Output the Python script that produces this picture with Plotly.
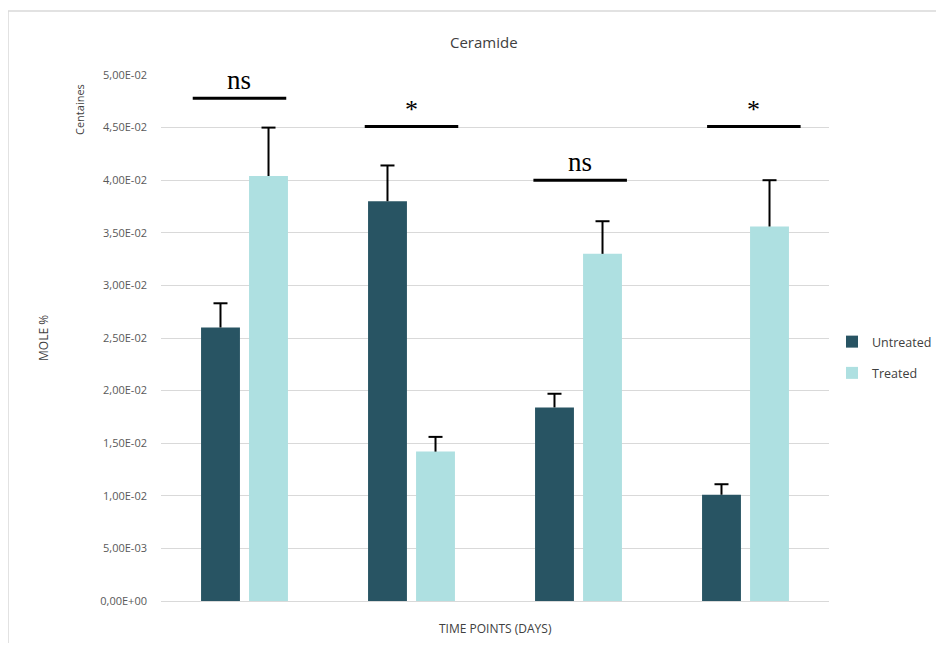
import plotly.graph_objects as go

categories = ["T1", "T2", "T3", "T4"]
untreated = [0.0260, 0.0380, 0.0184, 0.0101]
untreated_err = [0.0023, 0.0034, 0.0013, 0.0010]
treated = [0.0404, 0.0142, 0.0330, 0.0356]
treated_err = [0.0046, 0.0014, 0.0031, 0.0044]
tick_vals = [0, 0.005, 0.01, 0.015, 0.02, 0.025, 0.03, 0.035, 0.04, 0.045, 0.05]
tick_text = ["0,00E+00", "5,00E-03", "1,00E-02", "1,50E-02", "2,00E-02", "2,50E-02",
             "3,00E-02", "3,50E-02", "4,00E-02", "4,50E-02", "5,00E-02"]
sig_labels = ["ns", "*", "ns", "*"]
sig_levels = [0.0478, 0.0451, 0.0400, 0.0451]
sig_x0 = [-0.31, -0.28, -0.27, -0.23]
sig_x1 = [0.25, 0.28, 0.29, 0.33]

DARK = "#285463"
LIGHT = "#aee0e1"
TXT = "#404040"

# page body has an 8px margin; figure is sized to fit inside it
OFF = 8
FIG_W, FIG_H = 928, 635
PL, PR, PT, PB = 161, 829, 75, 601   # plot area in screen pixels


def px_x(px):
    return (px - PL) / (PR - PL)


def px_y(py):
    return (PB - py) / (PB - PT)


fig = go.Figure()
for name, vals, col, grp in [("Untreated", untreated, DARK, "u"),
                             ("Treated", treated, LIGHT, "t")]:
    fig.add_trace(go.Bar(name=name, x=categories, y=vals, marker_color=col,
                         marker_line_width=0, legendgroup=grp))
for name, vals, errs, grp in [("Untreated", untreated, untreated_err, "u"),
                              ("Treated", treated, treated_err, "t")]:
    tops = [v + e for v, e in zip(vals, errs)]
    fig.add_trace(go.Scatter(
        name=name, x=categories, y=tops, mode="markers", showlegend=False,
        legendgroup=grp, hoverinfo="skip",
        marker=dict(symbol="line-ew", size=10, color="black",
                    line=dict(color="black", width=2)),
        error_y=dict(type="data", symmetric=False, array=[0] * 4, arrayminus=errs,
                     color="black", thickness=2, width=0),
    ))

for i, (lab, lev, a, b) in enumerate(zip(sig_labels, sig_levels, sig_x0, sig_x1)):
    fig.add_shape(type="line", xref="x", yref="y", x0=i + a, x1=i + b,
                  y0=lev, y1=lev, line=dict(color="black", width=3))
    fig.add_annotation(x=i + (a + b) / 2, y=lev, xref="x", yref="y", text=lab,
                       showarrow=False, yanchor="bottom", yshift=1,
                       font=dict(family="Liberation Serif", size=27 if lab == "ns" else 26,
                                 color="black"))

# outer chart frame
fig.add_shape(type="rect", xref="paper", yref="paper",
              x0=px_x(8), x1=px_x(990), y0=px_y(700), y1=px_y(11),
              line=dict(color="#d9d9d9", width=1.5), layer="below")

texts = [("Centaines", 80, 110, -90, 11),
         ("MOLE %", 43, 338, -90, 12),
         ("TIME POINTS (DAYS)", 495, 628, 0, 12),
         ("Ceramide", 484, 42, 0, 15)]
for t, x, y, ang, sz in texts:
    fig.add_annotation(xref="paper", yref="paper", x=px_x(x), y=px_y(y),
                       xanchor="center", yanchor="middle",
                       text=t, textangle=ang, showarrow=False,
                       font=dict(family="Open Sans", size=sz, color=TXT))

fig.update_layout(
    width=FIG_W, height=FIG_H,
    margin=dict(l=PL - OFF, r=FIG_W - (PR - OFF), t=PT - OFF, b=FIG_H - (PB - OFF),
                autoexpand=False),
    paper_bgcolor="white", plot_bgcolor="white",
    barmode="group", bargap=0.425, bargroupgap=0.19,
    scattermode="group", scattergap=0.425,
    showlegend=True,
    legend=dict(x=px_x(832), y=px_y(327), xanchor="left", yanchor="top",
                font=dict(family="Open Sans", size=12.5, color=TXT),
                tracegroupgap=12, traceorder="grouped", itemwidth=30,
                bgcolor="rgba(0,0,0,0)"),
    xaxis=dict(showticklabels=False, showgrid=False, zeroline=False,
               showline=False, ticks=""),
    yaxis=dict(range=[0, 0.05], tickvals=tick_vals, ticktext=tick_text,
               showgrid=True, gridcolor="#d9d9d9", gridwidth=1.3,
               zeroline=True, zerolinecolor="#d9d9d9", zerolinewidth=1.3,
               showline=False, ticks="", ticklabelstandoff=13,
               tickfont=dict(family="Open Sans", size=11, color="#595959")),
    font=dict(family="Open Sans"),
)

fig.write_html("out.html")
